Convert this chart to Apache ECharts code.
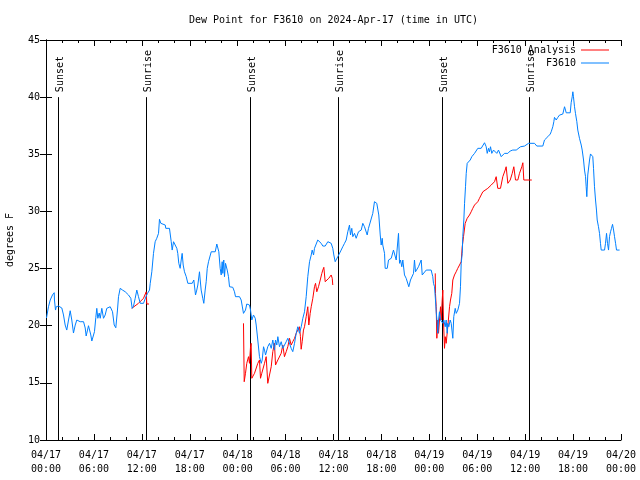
<!DOCTYPE html>
<html>
<head>
<meta charset="utf-8">
<script src="https://cdn.jsdelivr.net/npm/echarts@6/dist/echarts.min.js"></script>
<style>html,body{margin:0;padding:0;background:#fff;}#c{width:640px;height:480px;}</style>
</head>
<body>
<div id="c"></div>
<script>
// Hours since 2024-04-17 00:00 UTC
const xTickHours = [0, 6, 12, 18, 24, 30, 36, 42, 48, 54, 60, 66, 72];
const yTicks = [10, 15, 20, 25, 30, 35, 40, 45];
const sunHours = [1.5, 12.5, 25.55, 36.55, 49.57, 60.47];
const sunLabels = ['Sunset', 'Sunrise', 'Sunset', 'Sunrise', 'Sunset', 'Sunrise'];

const blueData = [
[0.06,20.67],[0.31,21.66],[0.53,22.25],[0.81,22.69],[1.03,22.89],[1.06,22.25],[1.19,21.37],[1.28,21.66],[1.44,21.55],[1.57,21.72],
[1.78,21.55],[1.98,21.55],[2.19,20.94],[2.40,20.06],[2.60,19.62],[2.82,20.50],[3.03,21.31],[3.23,20.50],[3.44,19.36],[3.66,20.06],
[3.86,20.50],[4.07,20.67],[4.28,20.35],[4.70,20.35],[4.91,19.80],[5.03,19.10],[5.20,19.62],[5.32,20.00],[5.53,19.97],[5.61,19.19],
[5.74,18.66],[5.95,18.66],[6.07,19.48],[6.24,20.73],[6.36,21.52],[6.49,20.65],[6.66,21.11],[6.79,20.65],[6.99,21.52],[7.20,20.65],
[7.41,20.94],[7.61,21.52],[7.83,21.37],[8.04,21.66],[8.24,21.72],[8.33,21.22],[8.54,20.06],[8.74,19.82],[8.95,21.37],[9.08,22.54],
[9.29,23.27],[9.58,23.12],[9.92,22.97],[10.33,22.69],[10.62,22.40],[10.79,21.52],[10.96,21.72],[11.17,22.40],[11.37,23.12],[11.50,23.27],
[11.58,22.54],[11.80,21.96],[12.21,21.96],[12.42,22.10],[12.55,22.60],[12.71,22.83],[12.96,23.12],[13.05,23.71],[13.25,24.72],[13.46,26.33],
[13.67,27.35],[13.87,27.65],[14.09,28.08],[14.21,29.31],[14.38,28.96],[14.59,29.01],[14.93,28.81],[15.00,28.52],[15.46,28.52],
[15.68,27.35],[15.80,26.62],[15.97,27.35],[16.18,27.21],[16.38,26.77],[16.50,26.33],[16.63,25.46],[16.80,25.02],[16.93,25.75],[17.05,26.33],
[17.18,25.31],[17.34,24.72],[17.56,24.29],[17.76,23.71],[18.31,23.71],[18.51,24.00],[18.72,22.69],[18.88,23.12],[19.01,23.56],[19.22,24.72],
[19.31,24.00],[19.43,23.12],[19.63,22.40],[19.76,21.96],[19.93,23.12],[20.06,23.85],[20.19,25.02],[20.35,25.60],[20.56,25.75],[20.69,26.47],
[21.19,26.47],[21.39,27.15],[21.51,27.21],[21.64,26.47],[21.81,25.02],[21.94,24.44],[22.06,25.60],[22.14,24.58],[22.26,25.75],[22.35,24.29],
[22.48,25.46],[22.69,24.87],[22.85,24.29],[22.98,23.41],[23.39,23.36],[23.60,22.97],[23.73,22.54],[24.23,22.54],[24.44,22.25],[24.57,21.72],
[24.73,21.08],[24.86,20.94],[24.98,21.37],[25.14,21.90],[25.48,21.81],[25.61,21.37],[25.77,20.50],[25.90,20.65],[25.98,20.94],[26.20,20.65],
[26.32,20.06],[26.45,19.91],[26.52,18.75],[26.73,17.29],[26.95,16.71],[27.07,17.00],[27.24,18.16],[27.36,17.87],[27.49,17.44],[27.65,17.59],
[27.77,18.16],[27.99,18.46],[28.20,18.02],[28.40,18.75],[28.61,17.87],[28.74,18.75],[28.90,18.31],[29.03,19.04],[29.24,18.16],[29.45,18.60],
[29.65,18.02],[29.86,18.16],[30.08,18.60],[30.28,18.90],[30.49,19.04],
[30.70,18.02],[30.90,17.73],[31.12,18.46],[31.33,19.34],[31.53,19.91],[31.74,19.34],[31.96,19.91],[32.16,20.65],[32.37,21.22],[32.58,22.54],
[32.78,24.29],[33.00,25.60],[33.21,26.19],[33.33,26.62],[33.50,26.19],[33.62,26.77],[33.83,26.91],[34.03,27.50],[34.25,27.50],[34.46,27.21],
[34.66,26.97],[34.96,26.97],[35.29,27.35],[35.50,27.50],[35.71,27.21],[35.91,26.77],[36.04,26.19],[36.21,25.60],[36.34,25.75],[36.54,26.04],
[36.75,26.19],[36.96,26.62],[37.16,26.91],[37.38,27.21],[37.59,27.50],[37.79,28.22],[38.00,28.81],[38.13,27.94],[38.29,28.52],[38.42,27.79],
[38.63,28.08],[38.84,27.65],[39.13,28.22],[39.34,28.08],[39.47,28.37],[39.67,28.96],[39.88,28.66],[40.10,28.66],[40.22,27.94],[40.38,28.52],
[40.63,28.66],[40.92,29.83],[41.13,30.85],[41.26,31.00],[41.42,30.71],[41.55,30.56],[41.67,29.69],[41.85,27.94],[41.97,27.06],[42.10,27.65],
[42.17,27.06],[42.39,26.33],[42.47,25.02],[42.73,25.02],[42.89,25.75],[43.23,25.90],[43.51,26.62],[43.76,26.47],[43.85,25.75],[43.98,25.60],
[44.14,28.08],[44.27,25.46],[44.39,25.75],[44.55,25.16],[44.68,25.75],[44.89,24.44],[45.10,24.15],[45.30,24.00],[45.43,23.41],[45.64,24.00],
[45.80,24.15],[46.02,24.58],[46.14,25.75],[46.27,24.72],[46.48,24.87],[46.64,25.16],[46.77,25.16],
[46.98,25.75],[47.11,24.44],[47.31,24.29],[47.61,24.87],[47.81,24.93],[48.23,24.87],[48.43,24.29],[48.52,23.71],[48.65,23.41],[48.77,22.25],
[48.86,21.22],[48.99,20.21],[49.06,19.34],[49.15,20.50],[49.27,21.22],[49.40,20.50],[49.56,20.50],[49.69,20.21],[49.81,20.50],[49.99,19.91],
[50.11,20.50],[50.24,19.34],[50.31,20.21],[50.44,19.91],[50.61,20.50],[50.74,20.21],[50.94,18.90],[51.06,20.79],[51.24,21.52],[51.37,21.08],
[51.57,21.37],[51.78,21.96],[51.90,23.41],[51.99,25.46],[52.12,26.33],[52.19,27.79],[52.32,29.25],[52.41,30.71],[52.53,32.16],[52.62,33.33],
[52.74,34.21],[52.91,34.35],[53.12,34.50],[53.32,34.79],[53.66,35.08],[53.87,35.08],[54.07,35.52],[54.28,35.61],[54.49,35.52],[54.70,35.52],
[54.91,36.01],[55.12,35.66],[55.25,35.08],[55.41,35.52],[55.53,35.22],[55.66,35.66],[55.82,35.08],[56.04,35.37],[56.25,35.52],[56.45,35.08],
[56.66,35.37],[56.88,35.22],[57.00,34.79],[57.20,34.79],[57.41,35.08],[57.83,35.08],[58.13,35.29],[58.45,35.37],[58.88,35.37],[59.08,35.52],
[59.42,35.66],[59.92,35.72],[60.42,35.96],[61.17,35.96],[61.46,35.72],[62.21,35.72],[62.42,36.25],[62.63,36.10],[62.84,36.54],[63.14,36.77],
[63.26,36.97],[63.46,37.41],[63.59,37.85],[63.67,38.23],[63.89,38.00],[64.09,38.23],[64.30,38.43],[64.71,38.52],[64.93,39.16],[65.05,38.87],
[65.14,38.63],[65.64,38.63],[65.76,39.51],[65.89,40.03],[65.97,40.47],[66.05,40.03],[66.18,39.16],[66.30,38.58],[66.47,37.85],[66.59,37.12],
[66.80,36.40],[67.02,35.81],[67.14,35.37],[67.31,34.50],[67.43,33.62],[67.56,33.04],[67.64,32.16],[67.72,31.29],[67.84,33.19],[68.06,34.50],
[68.18,35.03],[68.34,35.08],[68.47,34.79],[68.56,33.77],[68.68,32.16],[68.81,31.00],[68.93,30.12],[69.02,29.25],[69.18,28.66],[69.31,28.08],
[69.43,27.21],[69.52,26.62],[69.94,26.62],[70.06,27.21],[70.19,28.08],[70.31,27.21],[70.44,26.62],[70.56,27.79],[70.69,28.22],[70.81,28.52],
[70.94,28.87],[71.07,28.37],[71.19,27.79],[71.32,27.21],[71.44,26.62],[71.82,26.62]
];

// null entries break the analysis line into its separate runs
const redData = [
[10.74,21.52],[11.58,21.96],[12.21,22.40],[12.55,22.97],[12.62,21.90],[12.90,21.90],
[18.0,null],
[24.73,20.21],[24.82,15.10],[24.98,15.84],[25.14,16.71],[25.36,17.29],[25.48,16.71],[25.61,18.16],[25.69,18.46],[25.77,15.40],
[25.90,15.40],[26.11,15.84],[26.52,16.71],[26.73,17.00],[26.86,15.40],[27.02,15.84],[27.36,16.71],[27.57,17.29],[27.77,14.96],[27.99,14.96],
[28.20,16.41],[28.40,17.73],[28.61,18.46],[28.74,16.56],[29.03,17.00],[29.45,17.59],[29.65,18.31],[29.86,17.29],[30.08,17.73],[30.28,18.16],
[30.49,18.90],[30.70,18.31],[30.90,18.60],[31.12,18.90],[31.33,19.34],[31.53,19.62],[31.74,19.91],[31.86,19.04],[31.95,17.94],[32.08,18.60],
[32.24,19.62],[32.37,19.91],[32.58,20.79],[32.78,21.66],[32.91,20.06],[33.08,21.08],[33.21,21.66],[33.41,22.40],[33.62,23.41],[33.75,23.71],
[33.91,22.97],[34.12,23.41],[34.34,24.00],[34.54,24.58],[34.66,24.87],[34.79,25.11],[34.96,23.85],[35.16,24.00],[35.41,24.15],[35.71,24.44],
[35.84,24.15],[35.91,23.56],
[42.0,null],
[48.74,24.58],[48.77,22.83],[48.86,21.66],[48.94,18.90],[49.06,20.50],[49.15,19.34],[49.27,20.50],[49.40,21.66],[49.49,20.50],[49.61,22.25],
[49.69,23.12],[49.77,20.50],[49.90,18.02],[49.99,19.04],[50.11,18.46],[50.31,19.91],[50.53,21.66],[50.65,22.25],[50.81,22.83],[50.94,24.00],
[51.15,24.44],[51.36,24.72],[51.56,25.02],[51.78,25.31],[51.99,25.60],[52.12,26.91],[52.28,27.79],[52.49,28.96],[52.74,29.40],[53.03,29.69],
[53.24,29.97],[53.44,30.27],[53.66,30.56],[53.87,30.71],[54.07,30.85],[54.28,31.15],[54.49,31.44],[54.70,31.72],[54.91,31.87],[55.32,32.02],
[55.75,32.31],[56.16,32.60],[56.37,33.04],[56.57,32.02],[56.91,32.02],[57.20,33.04],[57.50,33.62],[57.62,33.91],[57.83,32.46],[58.13,32.75],
[58.38,33.33],[58.58,33.91],[58.79,32.75],[59.08,32.75],[59.29,33.33],[59.58,33.91],[59.71,34.26],[59.83,32.75],[60.83,32.75]
];

const FONT = 'DejaVu Sans Mono';
function pad(n){ return (n < 10 ? '0' : '') + n; }
function xLabel(h){
  const day = 17 + Math.floor(h / 24);
  const hh = ((h % 24) + 24) % 24;
  return '04/' + pad(day) + '\n' + pad(hh) + ':00';
}

const chart = echarts.init(document.getElementById('c'), null, {renderer: 'canvas'});
const axisCommon = {
  axisLine: {show: true, lineStyle: {color: '#000', width: 1}},
  splitLine: {show: false},
};
const legendCommon = {
  right: 31, align: 'right', itemWidth: 28, itemHeight: 1, icon: 'rect', itemGap: 0, padding: 0,
  textStyle: {fontFamily: FONT, fontSize: 10, color: '#000'}
};
chart.setOption({
  animation: false,
  backgroundColor: '#fff',
  title: {
    text: 'Dew Point for F3610 on 2024-Apr-17 (time in UTC)',
    left: 184, top: 10,
    textStyle: {fontFamily: FONT, fontSize: 10, fontWeight: 'normal', color: '#000'}
  },
  legend: [
    Object.assign({}, legendCommon, {data: ['F3610 Analysis'], top: 45}),
    Object.assign({}, legendCommon, {data: ['F3610'], top: 58})
  ],
  grid: {left: 46, right: 19, top: 40, bottom: 40, containLabel: false, outerBoundsMode: 'none'},
  xAxis: [
    Object.assign({}, axisCommon, {
      type: 'value', position: 'bottom', min: xTickHours[0], max: xTickHours[xTickHours.length - 1], interval: 6,
      axisTick: {show: true, inside: true, length: 6, lineStyle: {color: '#000'}},
      minorTick: {show: true, splitNumber: 3, length: 3, lineStyle: {color: '#000'}},
      axisLabel: {show: true, formatter: xLabel, margin: 8, color: '#000', fontFamily: FONT, fontSize: 10, lineHeight: 14,
                  showMinLabel: true, showMaxLabel: true}
    }),
    Object.assign({}, axisCommon, {
      type: 'value', position: 'top', min: xTickHours[0], max: xTickHours[xTickHours.length - 1], interval: 6,
      axisTick: {show: true, inside: true, length: 6, lineStyle: {color: '#000'}},
      minorTick: {show: true, splitNumber: 3, length: 3, lineStyle: {color: '#000'}},
      axisLabel: {show: false}
    })
  ],
  yAxis: [
    Object.assign({}, axisCommon, {
      type: 'value', position: 'left', min: yTicks[0], max: yTicks[yTicks.length - 1], interval: 5,
      name: 'degrees F', nameLocation: 'middle', nameGap: 31, nameRotate: 90,
      nameTextStyle: {fontFamily: FONT, fontSize: 10, color: '#000'},
      axisTick: {show: true, inside: true, length: 6, lineStyle: {color: '#000'}},
      axisLabel: {show: true, margin: 6, color: '#000', fontFamily: FONT, fontSize: 10}
    }),
    Object.assign({}, axisCommon, {
      type: 'value', position: 'right', min: yTicks[0], max: yTicks[yTicks.length - 1], interval: 5,
      axisTick: {show: true, inside: true, length: 6, lineStyle: {color: '#000'}},
      axisLabel: {show: false}
    })
  ],
  series: [
    {
      type: 'custom', name: 'sun', xAxisIndex: 0, yAxisIndex: 0, silent: true,
      data: sunHours.map(h => [h, 10, 40]),
      encode: {x: 0, y: [1, 2]},
      renderItem: function (params, api) {
        const p0 = api.coord([api.value(0), api.value(1)]);
        const p1 = api.coord([api.value(0), api.value(2)]);
        const x = Math.round(p0[0]) + 0.5;
        return {
          type: 'group',
          children: [
            {type: 'line', shape: {x1: x, y1: p0[1], x2: x, y2: p1[1]}, style: {stroke: '#000', lineWidth: 1}},
            {type: 'text', x: x + 1.5, y: p1[1] - 5, rotation: Math.PI / 2,
             style: {text: sunLabels[params.dataIndex], fill: '#000', font: '10px "' + FONT + '"',
                     align: 'left', verticalAlign: 'middle'}}
          ]
        };
      }
    },
    {
      name: 'F3610 Analysis', type: 'line', data: redData, showSymbol: false, symbol: 'none',
      connectNulls: false, lineStyle: {color: '#ff0000', width: 1}, itemStyle: {color: '#ff0000'}
    },
    {
      name: 'F3610', type: 'line', data: blueData, showSymbol: false, symbol: 'none',
      lineStyle: {color: '#0080ff', width: 1}, itemStyle: {color: '#0080ff'}
    }
  ]
});
</script>
</body>
</html>
